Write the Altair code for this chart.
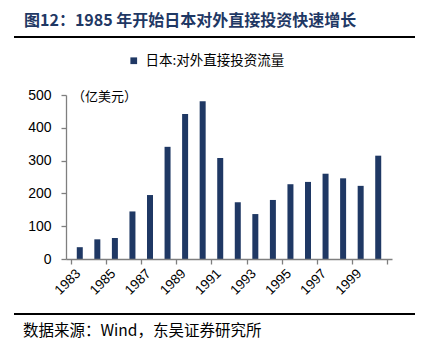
import altair as alt
import pandas as pd

years = list(range(1983, 2001))
values = [36, 60, 64, 145, 195, 342, 442, 481, 308, 173, 137, 180, 228, 235, 260, 246, 223, 315]
y_ticks = [0, 100, 200, 300, 400, 500]
x_tick_positions = [1982.5, 1984.5, 1986.5, 1988.5, 1990.5, 1992.5, 1994.5, 1996.5, 1998.5, 2000.5]

title_text = "图12：1985 年开始日本对外直接投资快速增长"
legend_text = "日本:对外直接投资流量"
unit_text = "（亿美元）"
source_text = "数据来源：Wind，东吴证券研究所"

NAVY = "#1F3864"
GREY = "#7F7F7F"
CJK = "Noto Sans CJK SC"
LATIN = "Liberation Sans"

df = pd.DataFrame({"year": years, "value": values, "series": [legend_text] * len(years)})

xscale = alt.Scale(domain=[1982.5, 2000.5], nice=False, zero=False)
yscale = alt.Scale(domain=[0, 500], nice=False)

x_axis = alt.Axis(values=x_tick_positions, ticks=True, tickSize=5, tickColor=GREY,
                  domain=True, domainColor=GREY, domainWidth=1.3, tickWidth=1.3, grid=False,
                  labelExpr="datum.value < 2000 ? format(datum.value + 0.5, 'd') : ''",
                  labelAngle=-45, labelAlign="right", labelBaseline="middle",
                  labelPadding=7, labelOffset=7, zindex=1,
                  labelFont=LATIN, labelFontSize=13.5, labelOverlap=False,
                  labelColor="black", title=None, orient="bottom")

y_axis = alt.Axis(values=y_ticks, tickSize=5, labelPadding=10, domain=True, domainColor=GREY,
                  domainWidth=1.3, tickWidth=1.3, zindex=1,
                  tickColor=GREY, ticks=True, labelFont=LATIN, labelFontSize=14,
                  labelOverlap=False, labelColor="black", grid=False, title=None,
                  orient="left")

bars = alt.Chart(df).mark_bar(size=6).encode(
    x=alt.X("year:Q", scale=xscale, axis=x_axis),
    y=alt.Y("value:Q", scale=yscale, axis=y_axis),
    color=alt.Color("series:N", scale=alt.Scale(range=[NAVY]),
                    legend=alt.Legend(orient="none", legendX=61, legendY=-41,
                                      direction="horizontal", title=None,
                                      symbolType="square", symbolSize=45,
                                      symbolStrokeWidth=0, labelFont=CJK,
                                      labelFontSize=13.5, labelColor="black",
                                      labelOffset=5)),
)

def text_layer(txt, x, y, size, weight="normal", color="black", font=CJK):
    return alt.Chart(pd.DataFrame({"t": [txt]})).mark_text(
        align="left", baseline="middle", font=font, fontSize=size,
        fontWeight=weight, color=color
    ).encode(x=alt.value(x), y=alt.value(y), text="t:N")

title = text_layer(title_text, -42, -74, 16, "bold", NAVY)
unit = text_layer(unit_text, 6, 2, 13)
source = text_layer(source_text, -43, 236, 15.5)

def hrule(y):
    return alt.Chart(pd.DataFrame({"a": [0]})).mark_rule(color="black", strokeWidth=2).encode(
        x=alt.value(-52), x2=alt.value(349), y=alt.value(y))

chart = alt.layer(bars, title, unit, source, hrule(-58), hrule(219)).properties(
    width=326, height=164,
    padding={"left": 66, "top": 95, "right": 35, "bottom": 92},
    autosize="none", background="white"
).configure_view(stroke=None)

chart.save("out.html", embed_options={"renderer": "svg", "actions": False})
